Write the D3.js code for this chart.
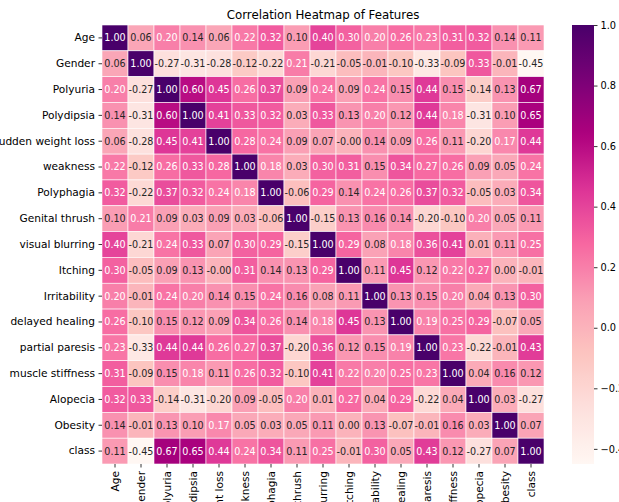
<!DOCTYPE html>
<html>
<head>
<meta charset="utf-8">
<script src="https://cdn.jsdelivr.net/npm/d3@7"></script>
<style>
  body { margin: 0; background: #fff; }
  svg text { font-family: "DejaVu Sans", sans-serif; }
</style>
</head>
<body>
<svg id="chart" width="619" height="502"></svg>
<script>
// Feature names (row / column order of the matrix)
const features = [
  "Age", "Gender", "Polyuria", "Polydipsia", "sudden weight loss", "weakness",
  "Polyphagia", "Genital thrush", "visual blurring", "Itching", "Irritability",
  "delayed healing", "partial paresis", "muscle stiffness", "Alopecia", "Obesity", "class"
];

// Pearson correlation matrix, one array per feature
const ageRow          = [1.00, 0.06, 0.20, 0.14, 0.06, 0.22, 0.32, 0.10, 0.40, 0.30, 0.20, 0.26, 0.23, 0.31, 0.32, 0.14, 0.11];
const genderRow       = [0.06, 1.00, -0.27, -0.31, -0.28, -0.12, -0.22, 0.21, -0.21, -0.05, -0.01, -0.10, -0.33, -0.09, 0.33, -0.01, -0.45];
const polyuriaRow     = [0.20, -0.27, 1.00, 0.60, 0.45, 0.26, 0.37, 0.09, 0.24, 0.09, 0.24, 0.15, 0.44, 0.15, -0.14, 0.13, 0.67];
const polydipsiaRow   = [0.14, -0.31, 0.60, 1.00, 0.41, 0.33, 0.32, 0.03, 0.33, 0.13, 0.20, 0.12, 0.44, 0.18, -0.31, 0.10, 0.65];
const weightLossRow   = [0.06, -0.28, 0.45, 0.41, 1.00, 0.28, 0.24, 0.09, 0.07, -0.00, 0.14, 0.09, 0.26, 0.11, -0.20, 0.17, 0.44];
const weaknessRow     = [0.22, -0.12, 0.26, 0.33, 0.28, 1.00, 0.18, 0.03, 0.30, 0.31, 0.15, 0.34, 0.27, 0.26, 0.09, 0.05, 0.24];
const polyphagiaRow   = [0.32, -0.22, 0.37, 0.32, 0.24, 0.18, 1.00, -0.06, 0.29, 0.14, 0.24, 0.26, 0.37, 0.32, -0.05, 0.03, 0.34];
const thrushRow       = [0.10, 0.21, 0.09, 0.03, 0.09, 0.03, -0.06, 1.00, -0.15, 0.13, 0.16, 0.14, -0.20, -0.10, 0.20, 0.05, 0.11];
const blurringRow     = [0.40, -0.21, 0.24, 0.33, 0.07, 0.30, 0.29, -0.15, 1.00, 0.29, 0.08, 0.18, 0.36, 0.41, 0.01, 0.11, 0.25];
const itchingRow      = [0.30, -0.05, 0.09, 0.13, -0.00, 0.31, 0.14, 0.13, 0.29, 1.00, 0.11, 0.45, 0.12, 0.22, 0.27, 0.00, -0.01];
const irritabilityRow = [0.20, -0.01, 0.24, 0.20, 0.14, 0.15, 0.24, 0.16, 0.08, 0.11, 1.00, 0.13, 0.15, 0.20, 0.04, 0.13, 0.30];
const healingRow      = [0.26, -0.10, 0.15, 0.12, 0.09, 0.34, 0.26, 0.14, 0.18, 0.45, 0.13, 1.00, 0.19, 0.25, 0.29, -0.07, 0.05];
const paresisRow      = [0.23, -0.33, 0.44, 0.44, 0.26, 0.27, 0.37, -0.20, 0.36, 0.12, 0.15, 0.19, 1.00, 0.23, -0.22, -0.01, 0.43];
const stiffnessRow    = [0.31, -0.09, 0.15, 0.18, 0.11, 0.26, 0.32, -0.10, 0.41, 0.22, 0.20, 0.25, 0.23, 1.00, 0.04, 0.16, 0.12];
const alopeciaRow     = [0.32, 0.33, -0.14, -0.31, -0.20, 0.09, -0.05, 0.20, 0.01, 0.27, 0.04, 0.29, -0.22, 0.04, 1.00, 0.03, -0.27];
const obesityRow      = [0.14, -0.01, 0.13, 0.10, 0.17, 0.05, 0.03, 0.05, 0.11, 0.00, 0.13, -0.07, -0.01, 0.16, 0.03, 1.00, 0.07];
const classRow        = [0.11, -0.45, 0.67, 0.65, 0.44, 0.24, 0.34, 0.11, 0.25, -0.01, 0.30, 0.05, 0.43, 0.12, -0.27, 0.07, 1.00];

const corrRows = [
  ageRow, genderRow, polyuriaRow, polydipsiaRow, weightLossRow, weaknessRow,
  polyphagiaRow, thrushRow, blurringRow, itchingRow, irritabilityRow,
  healingRow, paresisRow, stiffnessRow, alopeciaRow, obesityRow, classRow
];

// Colour bar tick values
const colorbarTicks = [1.0, 0.8, 0.6, 0.4, 0.2, 0.0, -0.2, -0.4];
const chartTitle = "Correlation Heatmap of Features";

// ---- layout ----
const plot = { left: 102, right: 544, top: 25, bottom: 464 };
const cbar = { left: 572, right: 594 };
const cellFont = 9.6;
const labelFont = 10.6;
const cbarFont = 9.8;

const svg = d3.select("#chart");

// long flat table for cells
const cells = [];
corrRows.forEach((row, i) => row.forEach((v, j) => cells.push({ r: features[i], c: features[j], v })));

const vmin = d3.min(cells, d => d.v);
const vmax = d3.max(cells, d => d.v);

// RdPu (ColorBrewer, 9 classes), linearly segmented
const rdpu = ["#fff7f3", "#fde0dd", "#fcc5c0", "#fa9fb5", "#f768a1", "#dd3497", "#ae017e", "#7a0177", "#49006a"];
const color = d3.scaleLinear()
  .domain(rdpu.map((_, i) => vmin + (vmax - vmin) * i / (rdpu.length - 1)))
  .range(rdpu)
  .interpolate(d3.interpolateRgb)
  .clamp(true);

const x = d3.scaleBand().domain(features).range([plot.left, plot.right]);
const y = d3.scaleBand().domain(features).range([plot.top, plot.bottom]);

// relative luminance → annotation colour
function luminance(c) {
  const rgb = d3.rgb(c);
  const lin = [rgb.r, rgb.g, rgb.b].map(u => {
    u /= 255;
    return u <= 0.03928 ? u / 12.92 : Math.pow((u + 0.055) / 1.055, 2.4);
  });
  return 0.2126 * lin[0] + 0.7152 * lin[1] + 0.0722 * lin[2];
}

// ---- cells ----
svg.append("g")
  .selectAll("rect")
  .data(cells)
  .join("rect")
  .attr("x", d => x(d.c))
  .attr("y", d => y(d.r))
  .attr("width", x.bandwidth())
  .attr("height", y.bandwidth())
  .attr("fill", d => color(d.v))
  .attr("stroke", "#ffffff")
  .attr("stroke-width", 0.6);

// ---- annotations ----
const fmt = v => {
  const s = Math.abs(v).toFixed(2);
  return (v < 0 || Object.is(v, -0)) ? "-" + s : s;
};
svg.append("g")
  .selectAll("text")
  .data(cells)
  .join("text")
  .attr("x", d => x(d.c) + x.bandwidth() / 2)
  .attr("y", d => y(d.r) + y.bandwidth() / 2)
  .attr("dy", "0.36em")
  .attr("text-anchor", "middle")
  .attr("font-size", cellFont)
  .attr("fill", d => luminance(color(d.v)) > 0.408 ? "#262626" : "#ffffff")
  .text(d => fmt(d.v));

// ---- axes ----
const yAxis = svg.append("g")
  .attr("transform", `translate(${plot.left},0)`)
  .call(d3.axisLeft(y).tickSize(3.5).tickPadding(3.5));
yAxis.select(".domain").remove();
yAxis.selectAll("text").attr("font-size", labelFont).attr("fill", "#000").style("font-family", '"DejaVu Sans", sans-serif');
yAxis.selectAll("line").attr("stroke", "#000").attr("stroke-width", 0.8);

const xAxis = svg.append("g")
  .attr("transform", `translate(0,${plot.bottom})`)
  .call(d3.axisBottom(x).tickSize(3.5).tickPadding(3.5));
xAxis.select(".domain").remove();
xAxis.selectAll("text")
  .attr("font-size", labelFont)
  .attr("fill", "#000")
  .style("font-family", '"DejaVu Sans", sans-serif')
  .attr("transform", "rotate(-90)")
  .attr("x", -7)
  .attr("y", 0)
  .attr("dy", "0.35em")
  .attr("text-anchor", "end");
xAxis.selectAll("line").attr("stroke", "#000").attr("stroke-width", 0.8);

// ---- title ----
svg.append("text")
  .attr("x", (plot.left + plot.right) / 2)
  .attr("y", 19)
  .attr("text-anchor", "middle")
  .attr("font-size", 11.8)
  .attr("fill", "#000")
  .text(chartTitle);

// ---- colour bar ----
const cScale = d3.scaleLinear().domain([vmin, vmax]).range([plot.bottom, plot.top]);
const grad = svg.append("defs").append("linearGradient")
  .attr("id", "cbarGrad")
  .attr("x1", 0).attr("y1", 1).attr("x2", 0).attr("y2", 0);
d3.range(0, 1.0001, 0.02).forEach(t => {
  grad.append("stop")
    .attr("offset", t)
    .attr("stop-color", color(vmin + (vmax - vmin) * t));
});
svg.append("rect")
  .attr("x", cbar.left)
  .attr("y", plot.top)
  .attr("width", cbar.right - cbar.left)
  .attr("height", plot.bottom - plot.top)
  .attr("fill", "url(#cbarGrad)");

const cAxis = svg.append("g")
  .attr("transform", `translate(${cbar.right},0)`)
  .call(d3.axisRight(cScale).tickValues(colorbarTicks).tickFormat(d3.format(".1f")).tickSize(3.5).tickPadding(3));
cAxis.select(".domain").remove();
cAxis.selectAll("text").attr("font-size", cbarFont).attr("fill", "#000").style("font-family", '"DejaVu Sans", sans-serif');
cAxis.selectAll("line").attr("stroke", "#000").attr("stroke-width", 0.8);
</script>
</body>
</html>
